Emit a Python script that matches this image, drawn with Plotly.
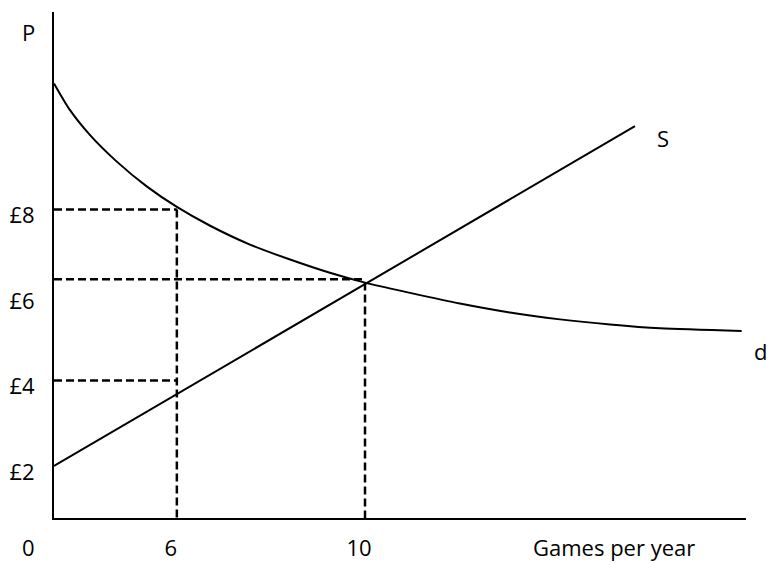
import plotly.graph_objects as go

# ---- data (schematic drawing units: quantity position along axis, price in £) ----
price_ticks = [2, 4, 6, 8]
price_labels = ["£2", "£4", "£6", "£8"]

qty_tick_pos = [3.95, 10.0]
qty_tick_labels = ["6", "10"]

supply_q = [0.0, 18.68]
supply_p = [2.0, 9.95]

demand_q = [0.0, 0.51, 1.16, 2.02, 2.98, 3.95, 5.02, 6.30, 7.59, 8.87, 10.0,
            11.45, 13.05, 14.66, 16.27, 17.88, 19.49, 22.11]
demand_p = [10.95, 10.33, 9.74, 9.12, 8.54, 8.06, 7.62, 7.18, 6.83, 6.52, 6.29,
            6.05, 5.80, 5.59, 5.43, 5.31, 5.22, 5.16]

q_low = 3.95      # "6 games" position
q_eq = 10.0       # "10 games" position
p_high = 8.0
p_low = 4.0
p_eq_line = 6.37
p_eq = 6.29

x_range = [0, 22.25]
y_range = [0.784, 12.62]

FONT = "Open Sans"
FS = 22

fig = go.Figure()

line_style = dict(color="black", width=2)
dash_style = dict(color="black", width=2.5, dash="8px,4px")

# demand curve
fig.add_trace(go.Scatter(x=demand_q, y=demand_p, mode="lines",
                         line=dict(color="black", width=2, shape="spline", smoothing=0.7),
                         hoverinfo="skip"))
# supply line
fig.add_trace(go.Scatter(x=supply_q, y=supply_p, mode="lines", line=line_style,
                         hoverinfo="skip"))

# dashed guides
guides = [
    ([0, q_low], [p_high, p_high]),
    ([q_low, q_low], [p_high, y_range[0]]),
    ([0, q_low], [p_low, p_low]),
    ([0, q_eq], [p_eq_line, p_eq_line]),
    ([q_eq, q_eq], [p_eq, y_range[0]]),
]
for gx, gy in guides:
    fig.add_trace(go.Scatter(x=gx, y=gy, mode="lines", line=dash_style,
                             hoverinfo="skip"))

annots = [
    dict(x=0, y=y_range[1], text="P", xshift=-26, yshift=-20, xanchor="center"),
    dict(x=supply_q[1], y=supply_p[1], text="S", xshift=28, yshift=-12, xanchor="center"),
    dict(x=demand_q[-1], y=demand_p[-1], text="d", xshift=27, yshift=-20, xanchor="right"),
    dict(x=0, y=y_range[0], text="0", xshift=-26, yshift=-29, xanchor="center"),
    dict(x=18.0, y=y_range[0], text="Games per year", xshift=0, yshift=-29, xanchor="center"),
]
for a in annots:
    fig.add_annotation(x=a["x"], y=a["y"], text=a["text"], xref="x", yref="y",
                       showarrow=False, xshift=a["xshift"], yshift=a["yshift"],
                       xanchor=a["xanchor"], yanchor="middle",
                       font=dict(family=FONT, size=FS, color="black"))

fig.update_layout(
    width=770, height=563,
    margin=dict(l=54, r=24, t=12, b=45, autoexpand=False),
    paper_bgcolor="white", plot_bgcolor="white",
    showlegend=False,
    font=dict(family=FONT, size=FS, color="black"),
    xaxis=dict(range=x_range, showgrid=False, zeroline=False, showline=True,
               linecolor="black", linewidth=2, ticks="",
               tickvals=qty_tick_pos, ticktext=qty_tick_labels,
               ticklabelstandoff=10, ticklabelshift=-6,
               tickfont=dict(family=FONT, size=FS, color="black")),
    yaxis=dict(range=y_range, showgrid=False, zeroline=False, showline=True,
               linecolor="black", linewidth=2, ticks="",
               tickvals=price_ticks, ticktext=price_labels,
               ticklabelstandoff=13, ticklabelshift=6,
               tickfont=dict(family=FONT, size=FS, color="black")),
)

fig.write_html("out.html", config={"displayModeBar": False},
               post_script="document.body.style.margin='0';")
